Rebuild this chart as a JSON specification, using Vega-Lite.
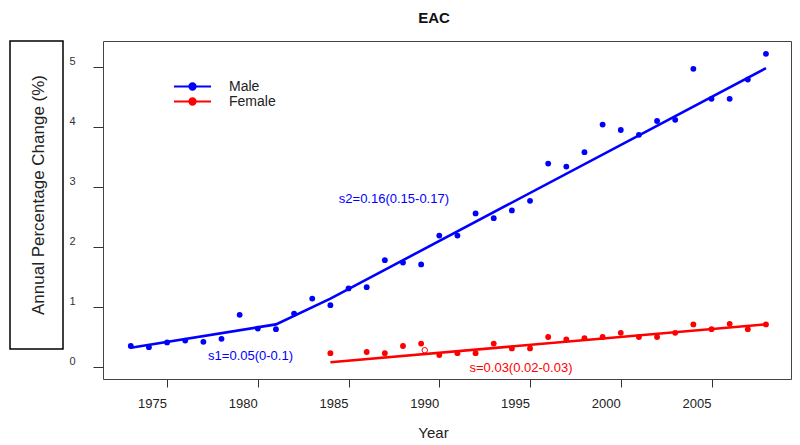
{
  "$schema": "https://vega.github.io/schema/vega-lite/v6.json",
  "background": "white",
  "padding": {"left": 9, "top": 10, "right": 10, "bottom": 5},
  "config": {"font": "Liberation Sans", "view": {"stroke": null}},
  "spacing": 40,
  "bounds": "flush",
  "resolve": {"scale": {"color": "independent"}, "legend": {"color": "independent"}},
  "datasets": {
    "ylabel": [{"label": "Annual Percentage Change (%)"}],
    "points": [
      {"sex": "Male", "year": 1973, "value": 0.35, "marker": "filled"},
      {"sex": "Male", "year": 1974, "value": 0.33, "marker": "filled"},
      {"sex": "Male", "year": 1975, "value": 0.41, "marker": "filled"},
      {"sex": "Male", "year": 1976, "value": 0.44, "marker": "filled"},
      {"sex": "Male", "year": 1977, "value": 0.42, "marker": "filled"},
      {"sex": "Male", "year": 1978, "value": 0.47, "marker": "filled"},
      {"sex": "Male", "year": 1979, "value": 0.87, "marker": "filled"},
      {"sex": "Male", "year": 1980, "value": 0.64, "marker": "filled"},
      {"sex": "Male", "year": 1981, "value": 0.63, "marker": "filled"},
      {"sex": "Male", "year": 1982, "value": 0.89, "marker": "filled"},
      {"sex": "Male", "year": 1983, "value": 1.14, "marker": "filled"},
      {"sex": "Male", "year": 1984, "value": 1.03, "marker": "filled"},
      {"sex": "Male", "year": 1985, "value": 1.31, "marker": "filled"},
      {"sex": "Male", "year": 1986, "value": 1.33, "marker": "filled"},
      {"sex": "Male", "year": 1987, "value": 1.78, "marker": "filled"},
      {"sex": "Male", "year": 1988, "value": 1.74, "marker": "filled"},
      {"sex": "Male", "year": 1989, "value": 1.71, "marker": "filled"},
      {"sex": "Male", "year": 1990, "value": 2.19, "marker": "filled"},
      {"sex": "Male", "year": 1991, "value": 2.19, "marker": "filled"},
      {"sex": "Male", "year": 1992, "value": 2.56, "marker": "filled"},
      {"sex": "Male", "year": 1993, "value": 2.48, "marker": "filled"},
      {"sex": "Male", "year": 1994, "value": 2.61, "marker": "filled"},
      {"sex": "Male", "year": 1995, "value": 2.77, "marker": "filled"},
      {"sex": "Male", "year": 1996, "value": 3.39, "marker": "filled"},
      {"sex": "Male", "year": 1997, "value": 3.34, "marker": "filled"},
      {"sex": "Male", "year": 1998, "value": 3.58, "marker": "filled"},
      {"sex": "Male", "year": 1999, "value": 4.04, "marker": "filled"},
      {"sex": "Male", "year": 2000, "value": 3.95, "marker": "filled"},
      {"sex": "Male", "year": 2001, "value": 3.87, "marker": "filled"},
      {"sex": "Male", "year": 2002, "value": 4.10, "marker": "filled"},
      {"sex": "Male", "year": 2003, "value": 4.12, "marker": "filled"},
      {"sex": "Male", "year": 2004, "value": 4.97, "marker": "filled"},
      {"sex": "Male", "year": 2005, "value": 4.47, "marker": "filled"},
      {"sex": "Male", "year": 2006, "value": 4.47, "marker": "filled"},
      {"sex": "Male", "year": 2007, "value": 4.79, "marker": "filled"},
      {"sex": "Male", "year": 2008, "value": 5.22, "marker": "filled"},
      {"sex": "Female", "year": 1984, "value": 0.23, "marker": "filled"},
      {"sex": "Female", "year": 1986, "value": 0.25, "marker": "filled"},
      {"sex": "Female", "year": 1987, "value": 0.23, "marker": "filled"},
      {"sex": "Female", "year": 1988, "value": 0.35, "marker": "filled"},
      {"sex": "Female", "year": 1989, "value": 0.39, "marker": "filled"},
      {"sex": "Female", "year": 1989.2, "value": 0.28, "marker": "open"},
      {"sex": "Female", "year": 1990, "value": 0.20, "marker": "filled"},
      {"sex": "Female", "year": 1991, "value": 0.23, "marker": "filled"},
      {"sex": "Female", "year": 1992, "value": 0.23, "marker": "filled"},
      {"sex": "Female", "year": 1993, "value": 0.39, "marker": "filled"},
      {"sex": "Female", "year": 1994, "value": 0.31, "marker": "filled"},
      {"sex": "Female", "year": 1995, "value": 0.31, "marker": "filled"},
      {"sex": "Female", "year": 1996, "value": 0.50, "marker": "filled"},
      {"sex": "Female", "year": 1997, "value": 0.46, "marker": "filled"},
      {"sex": "Female", "year": 1998, "value": 0.48, "marker": "filled"},
      {"sex": "Female", "year": 1999, "value": 0.50, "marker": "filled"},
      {"sex": "Female", "year": 2000, "value": 0.57, "marker": "filled"},
      {"sex": "Female", "year": 2001, "value": 0.50, "marker": "filled"},
      {"sex": "Female", "year": 2002, "value": 0.50, "marker": "filled"},
      {"sex": "Female", "year": 2003, "value": 0.57, "marker": "filled"},
      {"sex": "Female", "year": 2004, "value": 0.71, "marker": "filled"},
      {"sex": "Female", "year": 2005, "value": 0.63, "marker": "filled"},
      {"sex": "Female", "year": 2006, "value": 0.72, "marker": "filled"},
      {"sex": "Female", "year": 2007, "value": 0.63, "marker": "filled"},
      {"sex": "Female", "year": 2008, "value": 0.71, "marker": "filled"}
    ],
    "fits": [
      {"sex": "Male", "year": 1973, "value": 0.32},
      {"sex": "Male", "year": 1981, "value": 0.71},
      {"sex": "Male", "year": 1984, "value": 1.14},
      {"sex": "Male", "year": 2008, "value": 4.98},
      {"sex": "Female", "year": 1984, "value": 0.08},
      {"sex": "Female", "year": 2008, "value": 0.71}
    ],
    "notes": [
      {"sex": "Male", "year": 1987.5, "value": 2.8, "note": "s2=0.16(0.15-0.17)"},
      {"sex": "Male", "year": 1979.6, "value": 0.18, "note": "s1=0.05(0-0.1)"},
      {"sex": "Female", "year": 1994.5, "value": -0.02, "note": "s=0.03(0.02-0.03)"}
    ]
  },
  "hconcat": [
    {
      "width": 53,
      "height": 308,
      "view": {"stroke": "black", "strokeWidth": 1.5},
      "data": {"name": "ylabel"},
      "mark": {"type": "text", "angle": 270, "fontSize": 17, "color": "#222", "font": "Liberation Sans", "dy": 2},
      "encoding": {"text": {"field": "label", "type": "nominal"}}
    },
    {
      "width": 688,
      "height": 338,
      "view": {"stroke": "#444", "strokeWidth": 1},
      "title": {"text": "EAC", "fontSize": 15, "fontWeight": "bold", "font": "Liberation Sans", "color": "#111", "anchor": "middle", "dx": -13, "offset": 15},
      "encoding": {
        "x": {
          "field": "year", "type": "quantitative",
          "scale": {"domain": [1971.47, 2009.38], "nice": false, "zero": false},
          "axis": {
            "values": [1975, 1980, 1985, 1990, 1995, 2000, 2005], "format": "d",
            "domain": false, "grid": false, "tickSize": 8, "tickColor": "#333",
            "labelFontSize": 13, "labelColor": "#222", "labelOffset": -15, "labelPadding": 10, "labelFont": "Liberation Sans",
            "title": "Year", "titleFontSize": 15, "titleFontWeight": "normal", "titleColor": "#222", "titleFont": "Liberation Sans",
            "titleX": 330, "titleY": 53, "titleBaseline": "middle"
          }
        },
        "y": {
          "field": "value", "type": "quantitative",
          "scale": {"domain": [-0.2, 5.4333], "nice": false, "zero": false},
          "axis": {
            "values": [0, 1, 2, 3, 4, 5], "format": "d",
            "domain": false, "grid": false, "tickSize": 10, "tickColor": "#333",
            "labelFontSize": 11, "labelColor": "#333", "labelPadding": 18, "labelOffset": -5, "labelFont": "Liberation Sans",
            "title": null
          }
        },
        "color": {
          "field": "sex", "type": "nominal",
          "scale": {"domain": ["Male", "Female"], "range": ["#0000ff", "#ff0000"]},
          "legend": {
            "title": null, "orient": "none", "legendX": 70, "legendY": 40,
            "symbolType": "M-1,0L1,0M0.17,0A0.17,0.17,0,1,1,-0.17,0A0.17,0.17,0,1,1,0.17,0Z",
            "symbolSize": 1369, "symbolStrokeWidth": 2,
            "labelFontSize": 14, "labelFont": "Liberation Sans", "labelColor": "#222", "labelOffset": 17,
            "clipHeight": 11, "rowPadding": 0, "padding": 0,
            "encode": {"symbols": {"update": {
              "fill": {"signal": "datum.value === 'Male' ? '#0000ff' : '#ff0000'"},
              "stroke": {"signal": "datum.value === 'Male' ? '#0000ff' : '#ff0000'"}
            }}}
          }
        }
      },
      "layer": [
        {
          "data": {"name": "fits"},
          "mark": {"type": "line", "strokeWidth": 2.6}
        },
        {
          "data": {"name": "points"},
          "transform": [{"filter": "datum.marker === 'filled'"}],
          "mark": {"type": "point", "shape": "circle", "filled": true, "size": 34, "opacity": 1}
        },
        {
          "data": {"name": "points"},
          "transform": [{"filter": "datum.marker === 'open'"}],
          "mark": {"type": "point", "shape": "circle", "filled": false, "size": 30, "strokeWidth": 1, "opacity": 1}
        },
        {
          "data": {"name": "notes"},
          "mark": {"type": "text", "fontSize": 13, "font": "Liberation Sans", "align": "center", "baseline": "middle"},
          "encoding": {
            "text": {"field": "note", "type": "nominal"}
          }
        }
      ]
    }
  ]
}
